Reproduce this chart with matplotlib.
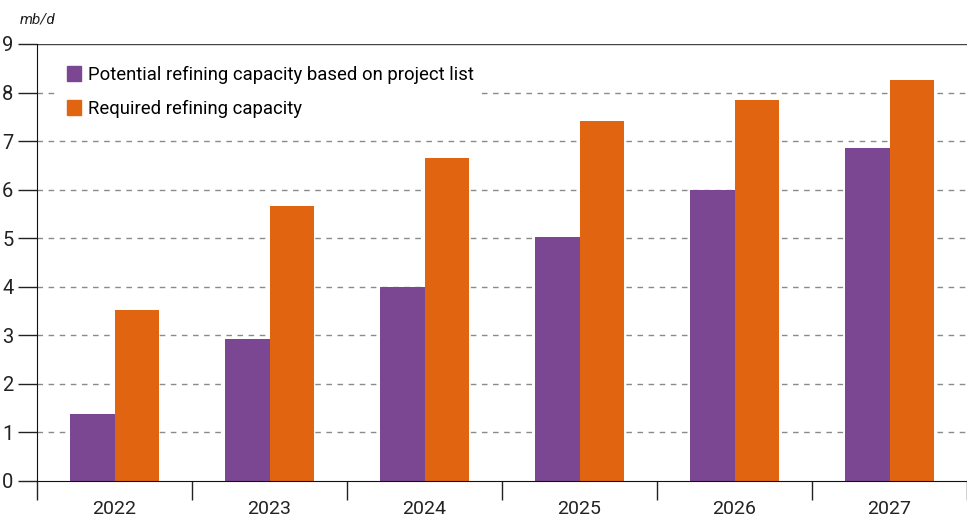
import numpy as np
import matplotlib.pyplot as plt
from matplotlib.patches import Patch

plt.rcParams['font.family'] = ['Roboto', 'DejaVu Sans']

# Data
years = ['2022', '2023', '2024', '2025', '2026', '2027']
potential = [1.38, 2.92, 4.0, 5.02, 6.0, 6.85]
required = [3.52, 5.67, 6.65, 7.42, 7.85, 8.25]

purple = '#7B4793'
orange = '#E16511'

fig = plt.figure(figsize=(9.67, 5.2), dpi=100)
ax = fig.add_axes([0.0383, 0.075, 0.9617, 0.8404])

x = np.arange(len(years))
w = 0.285
ax.bar(x - w / 2, potential, w, color=purple, zorder=3)
ax.bar(x + w / 2, required, w, color=orange, zorder=3)

ax.set_xlim(-0.5, len(years) - 0.5)
ax.set_ylim(0, 9)
ax.set_yticks(range(10))
ax.tick_params(axis='y', length=14, width=1, labelsize=14.5, pad=3, colors='#222222')
ax.set_xticks(x)
ax.set_xticklabels(years)
ax.tick_params(axis='x', length=0, labelsize=14, pad=14, colors='#222222')
# group separators below the axis
ax.set_xticks(np.arange(-0.5, len(years)), minor=True)
ax.tick_params(axis='x', which='minor', length=14, width=1, color='#222222')

for v in range(1, 9):
    ax.axhline(v, color='#8a8a8a', lw=1, ls=(0, (4, 4)), zorder=1)
ax.axhline(9, color='#444444', lw=1, zorder=1)

for s in ['top', 'right']:
    ax.spines[s].set_visible(False)
ax.spines['left'].set_color('#111111')
ax.spines['bottom'].set_color('#111111')
ax.spines['bottom'].set_zorder(4)

handles = [Patch(color=purple, label='Potential refining capacity based on project list'),
           Patch(color=orange, label='Required refining capacity')]
leg = ax.legend(handles=handles, loc='upper left', bbox_to_anchor=(0.02, 0.975),
                frameon=True, fontsize=13.3, handlelength=0.75, handleheight=0.9,
                handletextpad=0.4, labelspacing=0.85, borderaxespad=0.2)
leg.get_frame().set_edgecolor('none')
leg.get_frame().set_facecolor('white')
leg.get_frame().set_alpha(1)
leg.set_zorder(5)

fig.text(0.02, 0.955, 'mb/d', fontsize=11, style='italic', color='#222222')

fig.savefig('out.png', dpi=100)
